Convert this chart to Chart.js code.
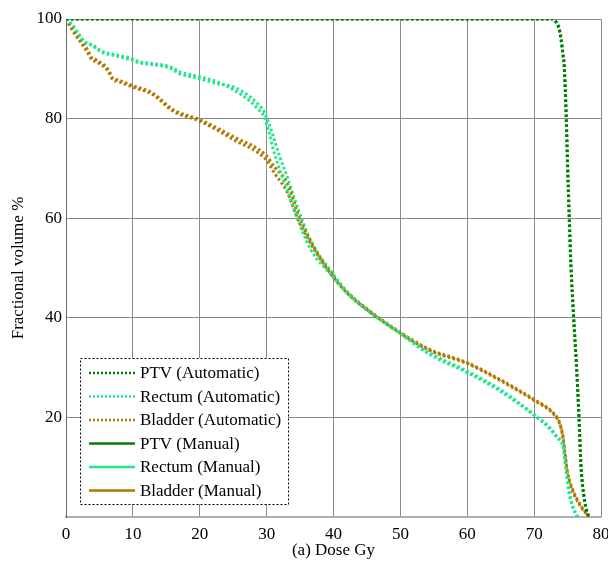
<!DOCTYPE html>
<html>
<head>
<meta charset="utf-8">
<script src="https://cdn.jsdelivr.net/npm/chart.js@4"></script>
<style>
    html, body { margin: 0; padding: 0; background: #fff; }
    #wrap { width: 608px; height: 561px; }
</style>
</head>
<body>
<div id="wrap"><canvas id="dvh"></canvas></div>
<script>
// dose-volume histogram curves, dose in Gy / volume in %
const ptvDose = [0, 72.8, 73.3, 73.7, 74, 74.3, 74.5, 74.8, 75, 75.25, 75.5, 75.9, 76.3, 76.7, 77, 77.5, 78, 78.3];
const ptvAuto = [100, 100, 99.3, 98.1, 96.1, 92.8, 90.4, 80, 70.4, 60, 50.4, 40, 31, 20.1, 10.3, 3.6, 0.6, 0];
const ptvManual = [100, 100, 99.4, 98.3, 96.4, 93.2, 90.8, 80.6, 71, 60.6, 51, 40.5, 31.4, 20.5, 10.6, 3.8, 0.7, 0];

const rectumDose = [0, 1, 2, 3, 4, 5, 5.8, 7.5, 9.7, 11, 12.6, 15.6, 17, 20, 22.6, 25, 27.6, 28.8, 29.6, 30.3, 31, 32, 33, 34.3, 36.6, 39.6, 42, 45.5, 50, 54.3, 60, 64.8, 70, 72.3, 73.5, 74.3, 74.8, 75.2, 75.7, 76.5];
const rectumAuto = [100, 98.8, 96.8, 95.1, 94.8, 93.8, 93.3, 92.8, 92.1, 91.4, 91.1, 90.4, 89.4, 88.4, 87.4, 85.8, 83.4, 81.8, 80.4, 77.5, 73.8, 69.5, 66, 61, 53.7, 48.7, 45, 41, 37, 33, 29.3, 25.7, 20.6, 18, 16, 14.6, 9.6, 5.6, 2.5, 0];
const rectumManual = [100, 98.6, 96.5, 95.3, 94.6, 93.6, 93.1, 92.6, 91.8, 91.2, 90.9, 90.1, 89.0, 88.0, 87.0, 86.4, 84.3, 82.8, 81.4, 79.2, 76.4, 72.2, 68.6, 63.4, 55.4, 49.4, 45.3, 41.2, 36.8, 32.7, 29.0, 25.4, 20.4, 17.8, 15.8, 14.2, 9.0, 5.0, 2.2, 0];

const bladderDose = [0, 1, 2.25, 3.25, 3.8, 4.5, 6, 6.5, 7, 7.7, 10, 13, 16, 20, 25, 30, 31.1, 33.1, 34.8, 37, 39.6, 42, 45.5, 49.3, 54.3, 60, 64.8, 70, 72.8, 73.8, 74.3, 74.6, 75, 75.75, 77, 78.2];
const bladderAuto = [100, 98.1, 95.8, 93.8, 92.3, 91.8, 90.4, 89.4, 88.1, 87.8, 86.6, 85.1, 81.8, 79.8, 76.4, 72.5, 70.4, 67, 60.4, 54.4, 49, 45.2, 41.3, 37.7, 33.7, 31, 27.7, 23.6, 21, 19, 16.3, 13, 9, 5.6, 2.3, 0];
const bladderManual = [100, 97.6, 95.2, 93.2, 91.9, 91.4, 90.0, 89.0, 87.8, 87.5, 86.3, 84.8, 81.5, 79.5, 75.8, 71.6, 69.2, 65.2, 59.4, 54.0, 48.8, 45.0, 41.1, 37.5, 33.5, 30.8, 27.5, 23.4, 20.8, 18.8, 16.0, 12.6, 8.6, 5.2, 2.0, 0];

const labels = ['PTV (Automatic)', 'Rectum (Automatic)', 'Bladder (Automatic)', 'PTV (Manual)', 'Rectum (Manual)', 'Bladder (Manual)'];
const colors = ['#008000', '#1ee88a', '#b37800'];

const serif = '"Liberation Serif", "Times New Roman", serif';

function pts(xs, ys) {
    return xs.map((x, i) => ({x: x, y: ys[i]}));
}

function curve(label, color, xs, ys, dotted) {
    return {
        label: label,
        data: pts(xs, ys),
        borderColor: color,
        borderWidth: 3,
        borderDash: [2.5, 2.5],
        borderCapStyle: 'butt',
        pointRadius: 0,
        fill: false,
        cubicInterpolationMode: 'monotone',
        solidKey: !dotted
    };
}

// legend box drawn inside the plot area, dotted frame like the matlab figure
const boxLegend = {
    id: 'boxLegend',
    afterDraw(chart) {
        const ctx = chart.ctx;
        const x0 = 80, y0 = 358, w = 208, h = 146;
        ctx.save();
        ctx.fillStyle = '#fff';
        ctx.fillRect(x0, y0, w, h);
        ctx.strokeStyle = '#000';
        ctx.lineWidth = 1;
        ctx.setLineDash([2, 2]);
        ctx.strokeRect(x0 + 0.5, y0 + 0.5, w, h);
        ctx.font = '17px ' + serif;
        ctx.textBaseline = 'middle';
        chart.data.datasets.forEach((ds, i) => {
            const y = 373 + i * 23.5;
            ctx.strokeStyle = ds.borderColor;
            ctx.lineWidth = 2.5;
            ctx.setLineDash(ds.solidKey ? [] : [2, 2]);
            ctx.beginPath();
            ctx.moveTo(89, y);
            ctx.lineTo(135, y);
            ctx.stroke();
            ctx.fillStyle = '#000';
            ctx.fillText(ds.label, 140, y + 1);
        });
        ctx.restore();
    }
};

const config = {
    type: 'line',
    data: {
        datasets: [
            curve(labels[0], colors[0], ptvDose, ptvAuto, true),
            curve(labels[1], colors[1], rectumDose, rectumAuto, true),
            curve(labels[2], colors[2], bladderDose, bladderAuto, true),
            curve(labels[3], colors[0], ptvDose, ptvManual, false),
            curve(labels[4], colors[1], rectumDose, rectumManual, false),
            curve(labels[5], colors[2], bladderDose, bladderManual, false)
        ]
    },
    options: {
        responsive: true,
        maintainAspectRatio: false,
        animation: false,
        layout: { padding: { top: 19, right: 7, left: 0, bottom: 0 } },
        plugins: {
            legend: { display: false },
            tooltip: { enabled: false }
        },
        scales: {
            x: {
                type: 'linear',
                min: 0,
                max: 80,
                ticks: {
                    stepSize: 10,
                    color: '#000',
                    padding: 7,
                    maxRotation: 0,
                    font: { family: serif, size: 17 }
                },
                grid: { color: '#8a8a8a', drawTicks: false },
                border: { color: '#b0b0b0', width: 2 },
                title: {
                    display: true,
                    text: '(a) Dose Gy',
                    color: '#000',
                    padding: { top: 0, bottom: 0 },
                    font: { family: serif, size: 17 }
                },
                afterFit(scale) {
                    // let the "80" label hang into the right margin
                    scale.height = 44;
                    scale.paddingLeft = 0;
                    scale.paddingRight = 0;
                }
            },
            y: {
                type: 'linear',
                min: 0,
                max: 100,
                ticks: {
                    stepSize: 20,
                    color: '#000',
                    padding: 4,
                    font: { family: serif, size: 17 },
                    callback: v => v === 0 ? '' : v
                },
                grid: { color: '#8a8a8a', drawTicks: false },
                border: { color: '#666', width: 1 },
                title: {
                    display: true,
                    text: 'Fractional volume %',
                    color: '#000',
                    padding: { top: 8, bottom: 0 },
                    font: { family: serif, size: 17 }
                },
                afterFit(scale) {
                    scale.width = 66;
                    scale.paddingTop = 0;
                    scale.paddingBottom = 0;
                }
            }
        }
    },
    plugins: [boxLegend]
};

let ctx = document.getElementById('dvh').getContext('2d');
new Chart(ctx, config);
</script>
</body>
</html>
